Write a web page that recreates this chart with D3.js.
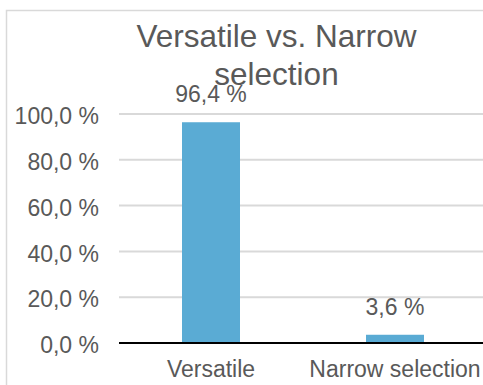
<!DOCTYPE html>
<html>
<head>
<meta charset="utf-8">
<script src="https://cdn.jsdelivr.net/npm/d3@7"></script>
<style>
  html, body { margin: 0; padding: 0; background: #fff; }
  svg { display: block; font-family: Helvetica, Arial, "Liberation Sans", sans-serif; }
</style>
</head>
<body>
<svg id="chart" width="483" height="385"></svg>
<script>
// Chart data
const categories = ["Versatile", "Narrow selection"];
const values = [96.4, 3.6];
const yTicks = [0, 20, 40, 60, 80, 100];
const titleLines = ["Versatile vs. Narrow", "selection"];

const svg = d3.select("#chart");
const W = 483, H = 385;
const textColor = "#595959";
const barColor = "#5aabd4";
const gridColor = "#d9d9d9";

const fmt = v => v.toFixed(1).replace(".", ",") + " %";

// chart frame
svg.append("rect")
  .attr("x", 6.5).attr("y", 10.5)
  .attr("width", W + 10).attr("height", H + 10)
  .attr("fill", "none").attr("stroke", gridColor).attr("stroke-width", 1.5);

const x = d3.scaleBand().domain(categories).range([119, 487]);
const y = d3.scaleLinear().domain([0, 100]).range([343, 114]);

// gridlines
svg.append("g").selectAll("line")
  .data(yTicks.filter(t => t > 0))
  .join("line")
  .attr("x1", 119).attr("x2", W)
  .attr("y1", d => y(d)).attr("y2", d => y(d))
  .attr("stroke", gridColor).attr("stroke-width", 2);

// y axis labels
const yAxis = d3.axisLeft(y).tickValues(yTicks).tickFormat(fmt).tickSize(0).tickPadding(0);
const gy = svg.append("g").attr("transform", "translate(99,0)").call(yAxis);
gy.select(".domain").remove();
gy.selectAll("text")
  .attr("fill", textColor)
  .style("font-size", "23px")
  .attr("dy", "0.42em");

// bars
const barW = 58;
svg.append("g").selectAll("rect")
  .data(values)
  .join("rect")
  .attr("x", (d, i) => x(categories[i]) + x.bandwidth() / 2 - barW / 2)
  .attr("width", barW)
  .attr("y", d => y(d))
  .attr("height", d => y(0) - y(d))
  .attr("fill", barColor);

// baseline
svg.append("line")
  .attr("x1", 119).attr("x2", W)
  .attr("y1", y(0)).attr("y2", y(0))
  .attr("stroke", "#000").attr("stroke-width", 2);

// value labels
svg.append("g").selectAll("text")
  .data(values)
  .join("text")
  .attr("x", (d, i) => x(categories[i]) + x.bandwidth() / 2)
  .attr("y", d => y(d) - 20)
  .attr("text-anchor", "middle")
  .attr("fill", textColor)
  .style("font-size", "23px")
  .text(d => fmt(d));

// category labels
const xAxis = d3.axisBottom(x).tickSize(0).tickPadding(0);
const gx = svg.append("g").attr("transform", "translate(0,377)").call(xAxis);
gx.select(".domain").remove();
gx.selectAll("text")
  .attr("fill", textColor)
  .attr("dy", 0)
  .style("font-size", "23px");

// title
svg.append("text")
  .attr("x", 276.5).attr("y", 47)
  .attr("text-anchor", "middle")
  .attr("fill", textColor)
  .style("font-size", "31.5px")
  .selectAll("tspan")
  .data(titleLines)
  .join("tspan")
  .attr("x", 276.5)
  .attr("y", (d, i) => 47 + i * 38)
  .text(d => d);
</script>
</body>
</html>
